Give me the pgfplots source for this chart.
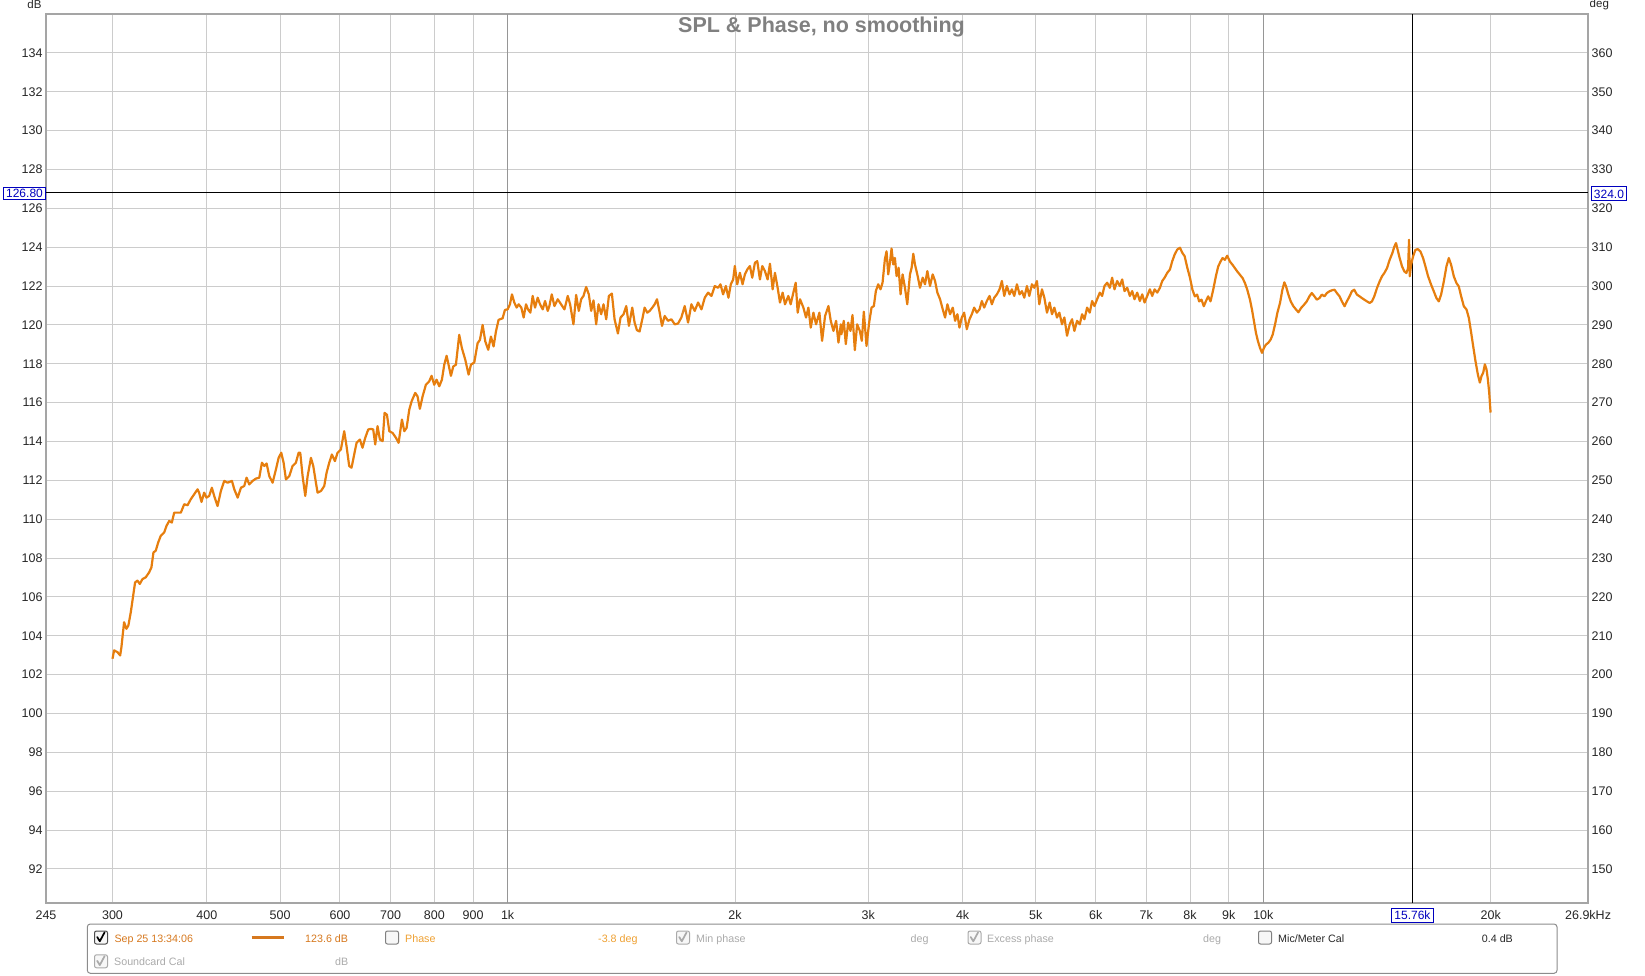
\documentclass[border=0pt]{standalone}
\usepackage{fontspec}
\setmainfont{Liberation Sans}
\usepackage{pgfplots}
\pgfplotsset{compat=1.18}
\definecolor{spl}{RGB}{230,126,14}
\definecolor{gridc}{RGB}{204,204,204}
\definecolor{gridd}{RGB}{150,150,150}
\definecolor{framec}{RGB}{165,165,165}
\definecolor{curblue}{RGB}{0,0,190}
\definecolor{legor}{RGB}{214,120,30}
\definecolor{legph}{RGB}{238,160,50}
\definecolor{leggr}{RGB}{170,170,170}
\definecolor{legdk}{RGB}{40,40,40}
\definecolor{titlec}{RGB}{128,128,128}

\pgfplotstableread{
f db
300 102.82
301.5 103.25
304.6 103.16
307.1 102.99
308.3 103.42
310.8 104.70
313.0 104.36
314.9 104.53
317.2 105.21
321.4 106.75
323.7 106.84
326.0 106.67
328.7 106.92
332.0 107.01
335.4 107.26
337.8 107.52
339.9 108.29
342.3 108.38
344.8 108.80
347.6 109.15
351.2 109.32
353.7 109.66
356.6 109.91
359.5 109.83
362.1 110.34
365.8 110.34
369.5 110.34
373.3 110.77
377.1 110.72
380.9 111.03
384.8 111.28
388.8 111.54
390.7 111.37
393.5 110.89
396.7 111.37
399.5 111.11
402.8 111.20
406.1 111.62
409.0 111.20
413.2 110.68
417.4 111.45
421.7 111.97
426.0 111.88
431.7 111.97
434.8 111.54
439.3 111.11
443.7 111.62
448.2 111.71
451.4 112.14
455.1 111.79
459.7 111.97
464.4 112.09
469.2 112.14
473.0 112.91
476.4 112.74
479.8 112.87
483.7 112.22
488.6 111.88
493.6 112.56
497.7 113.16
501.7 113.42
505.3 112.91
508.9 112.05
514.1 112.22
519.3 112.74
524.6 112.91
528.9 113.42
531.6 113.42
535.4 112.22
539.8 111.20
543.7 112.22
549.2 113.16
553.1 112.74
557.6 111.88
560.4 111.37
566.2 111.45
571.9 111.71
576.0 112.39
580.7 112.91
585.4 113.33
590.8 112.99
595.6 113.42
601.7 113.59
607.8 114.53
612.1 113.76
617.1 112.74
621.5 112.65
626.6 113.33
631.1 113.93
637.5 114.10
642.7 113.68
648.0 114.19
654.0 114.62
659.3 114.65
664.0 114.62
668.0 113.85
672.8 114.79
677.7 114.10
683.3 114.02
687.4 115.47
692.3 115.38
697.3 114.53
704.4 114.44
711.6 114.19
717.4 113.93
724.7 115.13
729.9 114.53
735.1 114.70
741.1 115.64
746.4 116.07
754.7 116.50
760.1 116.32
765.5 115.68
771.8 116.32
779.6 116.92
787.5 117.09
793.2 117.38
799.7 116.92
805.4 117.18
811.9 116.84
818.5 117.18
824.4 117.95
830.3 118.41
835.3 117.95
841.3 117.38
847.3 117.86
854.2 117.95
862.9 119.49
870.0 118.80
878.9 118.21
887.9 117.44
894.2 117.95
903.4 118.07
912.6 119.06
919.1 119.23
926.6 120.00
934.2 119.15
942.6 118.72
950.4 119.40
958.1 118.89
965.0 119.66
972.8 120.26
984.8 120.34
991.8 120.77
1000 120.80
1007.1 121.06
1013.3 121.57
1020.6 121.15
1027.9 120.89
1034.2 121.06
1042.6 120.89
1050.0 120.38
1057.6 121.06
1064.0 120.80
1071.7 120.63
1079.3 121.49
1087.1 120.89
1095.9 121.40
1103.8 121.06
1112.8 120.80
1120.8 121.23
1130.0 120.72
1135.7 120.97
1143.9 121.57
1153.2 120.97
1165.0 121.32
1176.9 121.06
1189.0 120.80
1201.1 121.49
1209.7 121.06
1222.1 120.03
1232.1 121.54
1242.2 120.72
1251.1 121.32
1260.0 121.49
1270.3 121.95
1280.7 121.57
1289.9 120.72
1299.1 121.26
1309.7 120.03
1319.1 121.06
1329.9 120.55
1339.4 121.06
1350.4 120.29
1361.4 121.49
1373.9 121.61
1385.2 120.29
1399.4 119.56
1410.8 120.38
1423.8 120.55
1435.4 120.97
1447.2 119.95
1462.0 120.89
1472.4 120.12
1482.9 119.73
1495.0 119.66
1507.3 120.29
1518.1 120.89
1530.5 120.63
1541.5 120.72
1554.1 120.89
1565.2 121.06
1576.4 121.32
1589.3 120.63
1600.7 119.95
1613.8 120.46
1630.3 120.21
1647.0 120.29
1663.8 120.03
1680.8 120.07
1698.0 120.38
1715.4 120.97
1733.0 120.12
1750.7 121.06
1768.6 120.72
1786.7 121.15
1805.0 120.80
1823.5 121.40
1842.1 121.66
1861.0 121.49
1880.0 122.00
1899.3 121.91
1912.8 122.09
1928.5 121.57
1944.3 122.00
1960.2 121.40
1974.2 122.09
1988.4 122.34
1998.5 123.03
2012.8 122.09
2029.3 122.68
2045.9 122.09
2060.5 122.60
2075.3 122.85
2092.2 123.03
2107.2 122.43
2124.4 123.20
2139.6 123.28
2157.1 122.34
2172.5 123.03
2190.3 122.77
2208.2 122.34
2224.0 123.15
2242.2 121.83
2258.2 122.68
2276.7 121.91
2293.0 121.15
2311.7 121.66
2328.3 121.06
2352.1 121.49
2368.9 121.06
2388.3 121.66
2405.4 122.17
2420.1 120.63
2437.4 121.32
2462.4 120.89
2482.5 120.38
2500.3 120.89
2518.2 119.86
2538.8 120.63
2559.5 120.03
2585.7 120.63
2606.9 119.18
2630.8 120.46
2657.7 120.97
2676.7 120.21
2698.6 119.69
2720.7 120.21
2740.2 119.09
2759.8 120.03
2765.4 119.52
2785.3 120.21
2802.3 119.01
2822.4 120.12
2842.6 119.69
2860.0 120.51
2880.4 118.70
2900.9 120.03
2924.6 119.69
2942.5 119.18
2960.5 120.68
2984.7 118.92
3009.2 120.12
3030.7 120.89
3052.3 120.97
3071.0 121.74
3093.0 122.09
3115.2 121.83
3134.3 122.17
3156.7 123.37
3172.8 123.79
3189.1 122.60
3205.4 123.20
3221.8 123.93
3238.0 123.11
3254.6 123.45
3271.2 122.51
3291.3 122.94
3311.5 121.57
3331.8 122.60
3355.7 121.91
3379.7 121.06
3407.4 122.60
3424.8 122.94
3442.3 123.66
3459.9 123.11
3484.7 122.60
3513.3 121.91
3542.1 122.43
3567.3 122.09
3593.0 122.77
3622.4 122.00
3652.0 122.60
3678.1 122.26
3704.4 121.66
3734.8 121.32
3765.2 120.80
3792.2 120.38
3819.3 121.06
3850.7 120.55
3882.2 120.89
3910.0 120.21
3938.0 120.55
3962.1 119.86
3990.4 120.38
4018.9 120.63
4051.7 119.78
4084.9 120.29
4114.1 120.55
4143.5 120.89
4177.4 120.63
4211.5 120.80
4241.6 121.23
4271.9 120.89
4306.8 121.23
4342.0 121.49
4373.1 121.06
4404.4 121.40
4440.4 121.57
4476.7 121.83
4508.7 122.26
4540.9 121.49
4577.9 122.00
4615.4 121.57
4648.4 121.83
4681.7 121.49
4720.0 122.09
4758.7 121.57
4792.6 121.74
4826.8 121.40
4866.2 122.00
4901.1 121.49
4941.1 122.09
4976.4 121.91
5017.1 122.26
5053.1 121.06
5094.5 121.83
5131.0 121.40
5172.9 120.63
5215.1 121.15
5252.5 120.55
5290.1 120.89
5333.3 120.38
5371.4 120.63
5415.5 120.03
5454.4 120.38
5498.9 119.44
5543.9 120.03
5583.5 120.29
5623.6 119.69
5669.6 120.21
5716.0 120.03
5756.8 120.55
5798.0 120.29
5845.5 120.89
5893.2 120.63
5935.4 121.23
5977.8 120.97
6026.7 121.32
6076.0 121.66
6119.4 121.49
6163.2 122.00
6213.7 122.17
6264.5 121.91
6309.4 122.43
6354.5 121.83
6406.4 122.26
6458.8 122.00
6505.1 122.34
6551.6 121.74
6605.3 121.91
6659.2 121.49
6706.9 121.74
6754.8 121.32
6810.0 121.66
6865.7 121.23
6914.8 121.57
6964.3 121.15
7021.1 121.49
7078.5 121.83
7129.2 121.49
7180.2 121.83
7238.9 121.66
7298.1 121.91
7350.3 122.26
7402.9 122.43
7463.4 122.68
7524.3 122.85
7578.2 123.28
7632.4 123.62
7694.8 123.88
7757.6 123.97
7813.1 123.71
7869.0 123.54
7933.3 122.94
7998.2 122.43
8058 121.81
8116 121.47
8174 121.56
8224 121.21
8283 121.30
8342 120.96
8393 121.21
8453 121.47
8514 121.21
8584 121.81
8654 122.50
8716 123.01
8778 123.26
8832 123.44
8894 123.35
8958 123.56
9032 123.26
9106 123.09
9171 122.92
9237 122.75
9312 122.58
9388 122.41
9456 122.15
9523 121.81
9601 121.30
9660 120.79
9719 120.19
9778 119.59
9838 119.16
9899 118.82
9959 118.56
10020 118.82
10082 118.99
10154 119.08
10227 119.25
10289 119.50
10363 120.02
10437 120.62
10522 121.13
10598 121.81
10662 122.19
10717 121.98
10793 121.56
10871 121.21
10959 120.96
11049 120.79
11128 120.65
11219 120.87
11322 121.04
11415 121.21
11508 121.47
11591 121.64
11686 121.47
11769 121.30
11866 121.38
11951 121.56
12049 121.47
12135 121.64
12234 121.73
12322 121.78
12423 121.81
12512 121.64
12614 121.47
12705 121.21
12808 120.96
12899 121.21
13005 121.47
13098 121.73
13192 121.81
13300 121.56
13409 121.47
13505 121.38
13602 121.30
13713 121.21
13825 121.13
13924 121.21
14024 121.47
14139 121.90
14254 122.24
14356 122.50
14459 122.67
14577 122.92
14696 123.35
14816 123.69
14907 124.03
14983 124.21
15060 123.86
15152 123.44
15260 123.01
15370 122.75
15464 122.67
15543 122.92
15591 124.38
15623 122.50
15686 123.09
15782 123.52
15895 123.86
16009 123.90
16140 123.78
16272 123.44
16388 123.01
16522 122.50
16674 122.07
16810 121.73
16948 121.38
17069 121.21
17191 121.56
17332 122.24
17473 123.01
17598 123.44
17724 123.09
17869 122.50
18016 122.15
18144 121.98
18274 121.47
18423 120.96
18574 120.79
18706 120.36
18840 119.59
18955 118.91
19091 118.14
19228 117.45
19345 117.03
19444 117.37
19544 117.54
19644 117.97
19743 117.71
19824 117.20
19905 116.51
19986 115.49
}\spldata

\newcommand{\cbx}[3]{% x, y, border colour
  \draw[draw=#3, fill=gray!6, rounded corners=2pt, line width=1pt] (#1-6.5,#2-6.5) rectangle (#1+6.5,#2+6.5);}
\newcommand{\chk}[3]{%
  \draw[#3, line width=1.7pt, line cap=round, line join=round] (#1-3.8,#2+0.5) -- (#1-1.2,#2-3.8) -- (#1+3.6,#2+5.2);}

\begin{document}
\begin{tikzpicture}[x=1pt,y=1pt]
\useasboundingbox (0,0) rectangle (1645,975);
\begin{axis}[
  at={(46pt,72pt)}, anchor=south west,
  scale only axis, width=1542pt, height=889pt,
  xmode=log, xmin=245, xmax=26900, ymin=90.25, ymax=136,
  xtick={245,300,400,500,600,700,800,900,2000,3000,4000,5000,6000,7000,8000,9000,20000,26900},
  xticklabels={245,300,400,500,600,700,800,900,2k,3k,4k,5k,6k,7k,8k,9k,20k,26.9kHz},
  extra x ticks={1000,10000},
  extra x tick labels={1k,10k},
  extra x tick style={grid=major, major grid style={draw=gridd, line width=1pt}},
  ytick={92,94,...,134},
  grid=major,
  major grid style={draw=gridc, line width=1pt},
  major tick length=0pt,
  axis line style={draw=framec, line width=2pt},
  tick label style={font=\fontsize{12.5}{14}\selectfont, text=black!85},
  xticklabel style={yshift=-4pt},
  /pgf/number format/assume math mode=true,
  clip=true,
]
\addplot[black, line width=1pt] coordinates {(245,126.8) (26900,126.8)};
\addplot[black, line width=1pt] coordinates {(15760,90.25) (15760,136)};
\addplot[spl, line width=2.2pt, line join=round] table[x=f, y=db] {\spldata};
\end{axis}
\begin{axis}[
  at={(46pt,72pt)}, anchor=south west,
  scale only axis, width=1542pt, height=889pt,
  xmode=log, xmin=245, xmax=26900, ymin=141.25, ymax=370,
  hide x axis, axis y line*=right, y axis line style={draw=none},
  ytick={150,160,...,360}, major tick length=0pt,
  tick label style={font=\fontsize{12.5}{14}\selectfont, text=black!85},
  /pgf/number format/assume math mode=true,
]
\addplot[draw=none] coordinates {(1000,200)};
\end{axis}

% title and axis unit labels
\node[anchor=base, inner sep=0, font=\fontsize{21.5}{25}\selectfont\bfseries, text=titlec] at (821.5,942.5) {SPL \& Phase, no smoothing};
\node[anchor=base, inner sep=0, font=\fontsize{11.5}{13}\selectfont, text=black!85] at (34.5,966) {dB};
\node[anchor=base west, inner sep=0, font=\fontsize{11.5}{13}\selectfont, text=black!85] at (1589.5,967) {deg};

% cursor readouts
\draw[curblue, fill=white, line width=1pt] (3.3,775) rectangle (45.7,787.7);
\node[font=\fontsize{12}{13}\selectfont, text=curblue, inner sep=0] at (24.5,781.3) {126.80};
\draw[curblue, fill=white, line width=1pt] (1591,774) rectangle (1626.7,788.3);
\node[font=\fontsize{12}{13}\selectfont, text=curblue, inner sep=0] at (1608.9,781.1) {324.0};
\draw[curblue, fill=white, line width=1pt] (1391.7,52.3) rectangle (1433.2,66.7);
\node[font=\fontsize{12}{13}\selectfont, text=curblue, inner sep=0] at (1412.4,59.5) {15.76k};

% legend panel
\draw[draw=black!45, rounded corners=3pt, line width=1pt] (87.3,1.7) rectangle (1557,51);
\begin{scope}[every node/.style={anchor=base west, inner sep=0, font=\fontsize{10.7}{12}\selectfont}]
\cbx{101}{37.5}{black!70}\chk{101}{37.5}{black}
\node[text=legor] at (114.3,32.8) {Sep 25 13:34:06};
\draw[legor, line width=2.5pt] (251.7,37.3) -- (284,37.3);
\node[text=legor] at (305,32.8) {123.6 dB};
\cbx{392}{37.5}{black!50}
\node[text=legph] at (405,32.8) {Phase};
\node[text=legph] at (598,32.8) {-3.8 deg};
\cbx{683}{37.5}{leggr}\chk{683}{37.5}{leggr}
\node[text=leggr] at (696,32.8) {Min phase};
\node[text=leggr] at (910.5,32.8) {deg};
\cbx{974.5}{37.5}{leggr}\chk{974.5}{37.5}{leggr}
\node[text=leggr] at (987,32.8) {Excess phase};
\node[text=leggr] at (1203,32.8) {deg};
\cbx{1265}{37.5}{black!50}
\node[text=legdk] at (1278,32.8) {Mic/Meter Cal};
\node[text=legdk] at (1481.7,32.8) {0.4 dB};
\cbx{101}{13.7}{leggr}\chk{101}{13.7}{leggr}
\node[text=leggr] at (114,9.3) {Soundcard Cal};
\node[text=leggr] at (335,9.3) {dB};
\end{scope}
\end{tikzpicture}
\end{document}
